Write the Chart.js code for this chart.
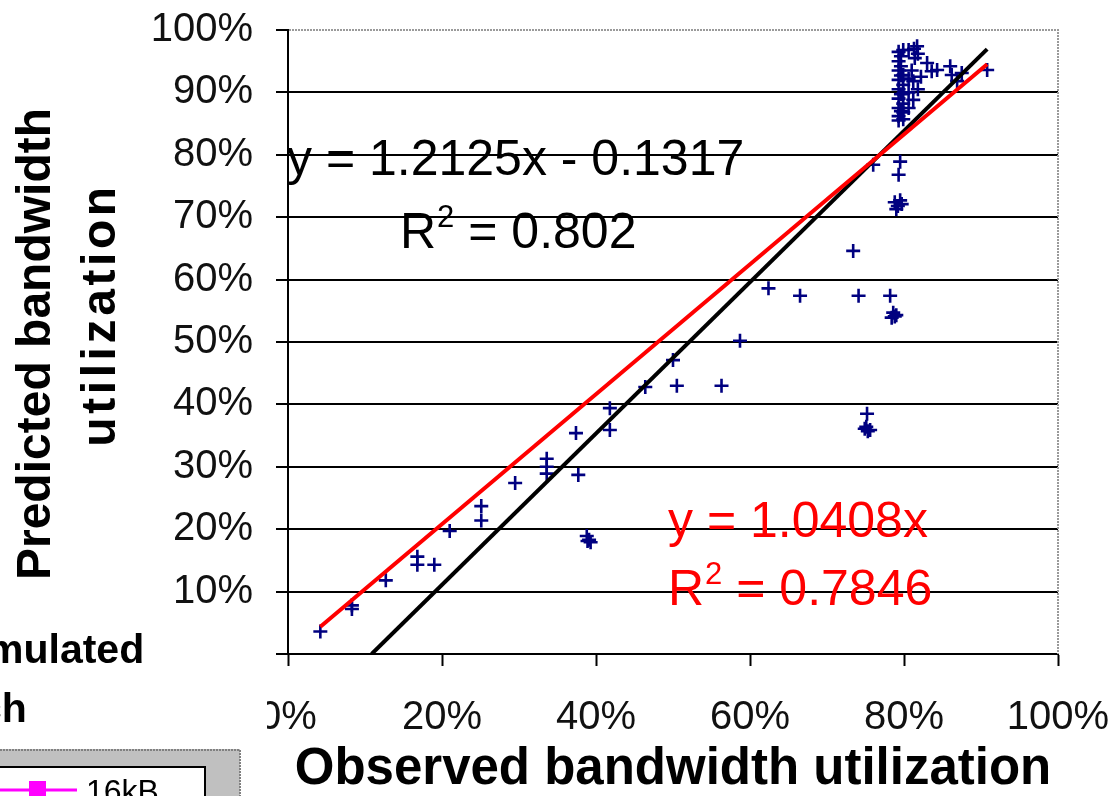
<!DOCTYPE html>
<html>
<head>
<meta charset="utf-8">
<script src="https://cdn.jsdelivr.net/npm/chart.js@4.4.1/dist/chart.umd.min.js"></script>
<style>
  html, body { margin: 0; padding: 0; background: #fff; overflow: hidden; }
  canvas { display: block; }
</style>
</head>
<body>
<canvas id="c" width="1120" height="796"></canvas>
<script>
// Observed vs. predicted bandwidth utilization, one entry per run
const observed = [
  0.042, 0.083, 0.083, 0.127, 0.168, 0.168, 0.190, 0.210, 0.251, 0.251,
  0.295, 0.336, 0.336, 0.336, 0.377, 0.374, 0.388, 0.391, 0.393, 0.389,
  0.418, 0.418, 0.464, 0.505, 0.500, 0.563, 0.587, 0.624, 0.665, 0.734,
  0.741, 0.782, 0.786, 0.788, 0.784, 0.790, 0.752, 0.749, 0.753, 0.756,
  0.751, 0.760, 0.795, 0.793, 0.788, 0.792, 0.795, 0.790, 0.797,
  0.793, 0.793, 0.793, 0.793, 0.793, 0.793, 0.793, 0.793, 0.793,
  0.799, 0.799, 0.799, 0.799, 0.799, 0.799, 0.799,
  0.796, 0.796, 0.796, 0.796, 0.796,
  0.806, 0.813, 0.818, 0.814, 0.810, 0.806, 0.812, 0.818, 0.806, 0.812,
  0.806, 0.822, 0.830, 0.836, 0.843, 0.860, 0.862, 0.875, 0.869, 0.908,
  0.817
];
const predicted = [
  0.036, 0.078, 0.072, 0.118, 0.156, 0.143, 0.143, 0.197, 0.237, 0.214,
  0.274, 0.313, 0.300, 0.289, 0.287, 0.354, 0.189, 0.183, 0.179, 0.181,
  0.394, 0.359, 0.428, 0.430, 0.471, 0.430, 0.502, 0.586, 0.574, 0.646,
  0.574, 0.574, 0.547, 0.541, 0.539, 0.543, 0.385, 0.361, 0.357, 0.359,
  0.364, 0.784, 0.789, 0.768, 0.724, 0.718, 0.727, 0.713, 0.721,
  0.965, 0.950, 0.935, 0.920, 0.905, 0.890, 0.875, 0.862, 0.855,
  0.968, 0.928, 0.912, 0.898, 0.882, 0.868, 0.857,
  0.958, 0.942, 0.927, 0.897, 0.870,
  0.968, 0.970, 0.962, 0.955, 0.935, 0.922, 0.918, 0.905, 0.900, 0.888,
  0.875, 0.925, 0.947, 0.934, 0.936, 0.942, 0.928, 0.931, 0.918, 0.936,
  0.974
];

// Trendlines: [linear fit, fit through origin]
const trendSlopes = [1.2125, 1.0408];
const trendIntercepts = [-0.1317, 0];
const trendR2 = [0.802, 0.7846];

const yTickStep = 0.1;
const xTickStep = 0.2;

const FONT = '"Liberation Sans", Arial, Helvetica, sans-serif';
Chart.defaults.font.family = FONT;
Chart.defaults.color = '#000';

const pts = observed.map((x, i) => ({ x, y: predicted[i] }));
const xMin = Math.min(...observed);
const xMax = Math.max(...observed);

function trendPoints(k) {
  const m = trendSlopes[k], b = trendIntercepts[k];
  const x0 = Math.max(xMin, -b / m);   // start where the line enters the plot
  return [{ x: x0, y: m * x0 + b }, { x: xMax, y: m * xMax + b }];
}

const pct = v => Math.round(v * 100) + '%';

// Frame, regression labels, axis title and the neighbouring panel's edge
const overlay = {
  id: 'overlay',
  afterDraw(chart) {
    const ctx = chart.ctx;
    const { left, right, top, bottom } = chart.chartArea;
    ctx.save();

    // plot area frame (top and right)
    ctx.strokeStyle = '#9a9a9a';
    ctx.lineWidth = 2;
    ctx.setLineDash([2, 1]);
    ctx.beginPath();
    ctx.moveTo(left + 1, top);
    ctx.lineTo(right, top);
    ctx.lineTo(right, bottom);
    ctx.stroke();
    ctx.setLineDash([]);

    // regression labels
    const EQ = '50px ' + FONT;
    function eqn(color, x, y, text) {
      ctx.fillStyle = color;
      ctx.font = EQ;
      ctx.textAlign = 'left';
      ctx.textBaseline = 'alphabetic';
      ctx.fillText(text, x, y);
    }
    function r2(color, x, y, value) {
      ctx.fillStyle = color;
      ctx.textAlign = 'left';
      ctx.textBaseline = 'alphabetic';
      ctx.font = EQ;
      ctx.fillText('R', x, y);
      let w = ctx.measureText('R').width;
      ctx.font = '31px ' + FONT;
      ctx.fillText('2', x + w + 1, y - 21);
      w += ctx.measureText('2').width + 1;
      ctx.font = EQ;
      ctx.fillText(' = ' + value, x + w, y);
    }
    const b0 = trendIntercepts[0];
    eqn('#000', 287, 175, 'y = ' + trendSlopes[0] + 'x ' + (b0 < 0 ? '- ' : '+ ') + Math.abs(b0));
    r2('#000', 400, 248, trendR2[0]);
    eqn('#ff0000', 668, 537, 'y = ' + trendSlopes[1] + 'x');
    r2('#ff0000', 668, 605, trendR2[1]);

    // vertical axis title (two lines)
    ctx.fillStyle = '#000';
    ctx.font = 'bold 48px ' + FONT;
    ctx.textAlign = 'center';
    ctx.textBaseline = 'middle';
    ctx.save();
    ctx.translate(37, 344);
    ctx.rotate(-Math.PI / 2);
    ctx.fillText('Predicted bandwidth', 0, 0);
    ctx.restore();
    ctx.save();
    ctx.translate(102, 315);
    ctx.rotate(-Math.PI / 2);
    if ('letterSpacing' in ctx) ctx.letterSpacing = '3.6px';
    ctx.fillText('utilization', 0, 0);
    ctx.restore();

    // neighbouring panel overlapping the lower-left corner
    ctx.fillStyle = '#fff';
    ctx.fillRect(0, 620, 267, 176);
    ctx.fillStyle = '#000';
    ctx.font = 'bold 41px ' + FONT;
    ctx.textAlign = 'left';
    ctx.textBaseline = 'alphabetic';
    ctx.fillText('mulated', -13, 663);
    ctx.fillText('ch', -21, 722);

    // its legend box
    ctx.fillStyle = '#c0c0c0';
    ctx.fillRect(0, 749, 240, 47);
    ctx.strokeStyle = '#808080';
    ctx.lineWidth = 2;
    ctx.setLineDash([2, 1]);
    ctx.beginPath();
    ctx.moveTo(0, 750); ctx.lineTo(240, 750); ctx.lineTo(240, 796);
    ctx.stroke();
    ctx.setLineDash([]);
    ctx.fillStyle = '#fff';
    ctx.fillRect(0, 767, 205, 29);
    ctx.strokeStyle = '#000';
    ctx.beginPath();
    ctx.moveTo(0, 767); ctx.lineTo(205, 767); ctx.lineTo(205, 796);
    ctx.stroke();
    ctx.strokeStyle = '#ff00ff';
    ctx.lineWidth = 3;
    ctx.beginPath();
    ctx.moveTo(0, 790); ctx.lineTo(77, 790);
    ctx.stroke();
    ctx.fillStyle = '#ff00ff';
    ctx.fillRect(29, 781, 17, 17);
    ctx.fillStyle = '#000';
    ctx.font = '32px ' + FONT;
    ctx.fillText('16kB', 86, 802);

    ctx.restore();
  }
};

new Chart(document.getElementById('c'), {
  type: 'scatter',
  data: {
    datasets: [
      {
        label: 'Through origin',
        data: trendPoints(1),
        showLine: true,
        borderColor: '#ff0000',
        borderWidth: 4,
        pointRadius: 0,
        fill: false
      },
      {
        label: 'Linear',
        data: trendPoints(0),
        showLine: true,
        borderColor: '#000',
        borderWidth: 4,
        pointRadius: 0,
        fill: false
      },
      {
        label: 'Runs',
        data: pts,
        pointStyle: 'cross',
        pointRadius: 7,
        pointBorderWidth: 2.6,
        borderColor: '#000080',
        backgroundColor: '#000080'
      }
    ]
  },
  options: {
    responsive: false,
    animation: false,
    devicePixelRatio: 1,
    layout: { padding: { left: 0, right: 62, top: 30, bottom: 0 } },
    plugins: { legend: { display: false }, tooltip: { enabled: false } },
    scales: {
      x: {
        type: 'linear',
        min: 0,
        max: 1,
        afterFit(scale) {
          scale.height = 142;
          scale.paddingLeft = 0;
          scale.paddingRight = 0;
        },
        ticks: {
          stepSize: xTickStep,
          callback: pct,
          font: { size: 40 },
          color: '#111',
          padding: 28,
          maxRotation: 0
        },
        grid: {
          drawOnChartArea: false,
          tickLength: 12,
          tickColor: '#000',
          tickWidth: 2
        },
        border: { display: true, color: '#000', width: 2 },
        title: {
          display: true,
          text: 'Observed bandwidth utilization',
          font: { size: 51, weight: 'bold', lineHeight: 1 },
          color: '#000',
          padding: { top: 0, bottom: 1 }
        }
      },
      y: {
        type: 'linear',
        min: 0,
        max: 1,
        afterFit(scale) {
          scale.width = 288;
          scale.paddingTop = 0;
          scale.paddingBottom = 0;
        },
        ticks: {
          stepSize: yTickStep,
          callback: pct,
          font: { size: 40 },
          color: '#111',
          padding: 23
        },
        grid: {
          color: ctx => (ctx.tick && ctx.tick.value > 0.999 ? 'rgba(0,0,0,0)' : '#000'),
          lineWidth: 2,
          tickLength: 12,
          tickColor: '#000',
          tickWidth: 2
        },
        border: { display: true, color: '#000', width: 2 }
      }
    }
  },
  plugins: [overlay]
});
</script>
</body>
</html>
